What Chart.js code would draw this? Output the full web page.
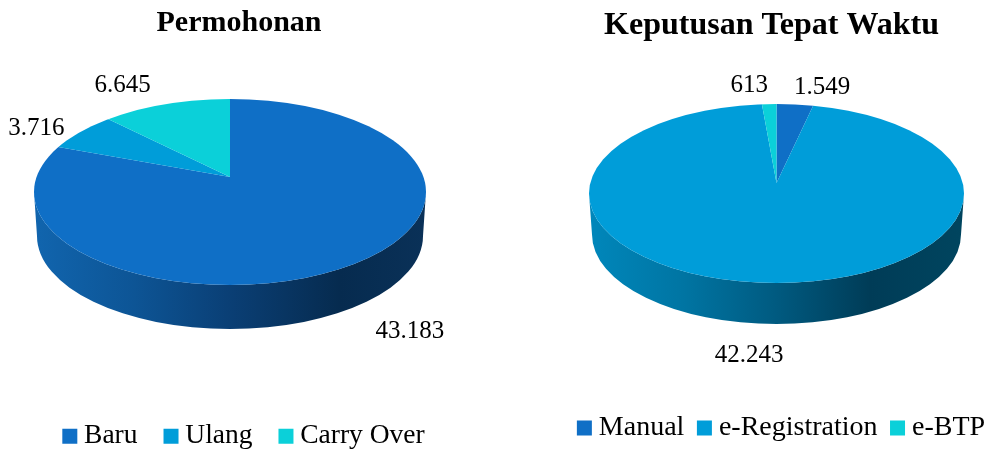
<!DOCTYPE html>
<html>
<head>
<meta charset="utf-8">
<title>Permohonan dan Keputusan Tepat Waktu</title>
<script src="https://cdn.jsdelivr.net/npm/chart.js@4"></script>
<style>
    html, body { margin: 0; padding: 0; background: #ffffff; }
    #page { position: relative; width: 985px; height: 450px; overflow: hidden; }
    canvas { position: absolute; top: 0; }
    #permohonanChart { left: 0; }
    #keputusanChart { left: 529px; }
</style>
</head>
<body>
<div id="page">
    <canvas id="permohonanChart" width="488" height="450"></canvas>
    <canvas id="keputusanChart" width="500" height="450"></canvas>
</div>
<script>
// --- DATA ---
const permohonanLabels = ['Baru', 'Ulang', 'Carry Over'];
const permohonanValues = [43183, 3716, 6645];
const keputusanLabels = ['Manual', 'e-Registration', 'e-BTP'];
const keputusanValues = [1549, 42243, 613];

const sliceColors = ['#0F6FC6', '#009DD9', '#0BD0D9'];
const serif = "'Liberation Serif', serif";

// angka memakai titik ribuan, contoh 43.183
const formatValue = (v) => String(v).replace(/\B(?=(\d{3})+$)/g, '.');

// --- PLUGIN: pie dimiringkan jadi elips, sisi tebal digambar di bawahnya ---
const tiltPlugin = {
    id: 'tilt',
    afterLayout(chart, args, opts) {
        chart.titleBlock.left += opts.titleShift;
        chart.titleBlock.right += opts.titleShift;
        chart.legend.left += opts.legendShift[0];
        chart.legend.right += opts.legendShift[0];
        chart.legend.top += opts.legendShift[1];
    },
    beforeDatasetsDraw(chart, args, opts) {
        const { ctx } = chart;
        const arc = chart.getDatasetMeta(0).data[0];
        ctx.save();

        // dinding samping
        const grad = ctx.createLinearGradient(opts.cx - opts.rx, 0, opts.cx + opts.rx, 0);
        opts.wall.forEach(([stop, color]) => grad.addColorStop(stop, color));
        ctx.beginPath();
        ctx.ellipse(opts.cx, opts.cy, opts.rx, opts.ry, 0, 0, Math.PI);
        ctx.ellipse(opts.cx, opts.cy + opts.depth, opts.rx - 3, opts.ry, 0, Math.PI, 0, true);
        ctx.closePath();
        ctx.fillStyle = grad;
        ctx.fill();

        // permukaan atas: clip elips, lalu skala Y dari titik pusat potongan
        ctx.beginPath();
        ctx.ellipse(opts.cx, opts.cy, opts.rx, opts.ry, 0, 0, Math.PI * 2);
        ctx.clip();
        ctx.translate(opts.cx, opts.apexY);
        ctx.scale(1, opts.squash);
        ctx.translate(-arc.x, -arc.y);
    },
    afterDatasetsDraw(chart, args, opts) {
        const { ctx } = chart;
        ctx.restore();

        // label nilai, posisinya dari sudut tengah tiap potongan
        const meta = chart.getDatasetMeta(0);
        ctx.save();
        ctx.font = opts.labelFont;
        ctx.fillStyle = '#000000';
        ctx.textAlign = 'center';
        ctx.textBaseline = 'middle';
        meta.data.forEach((el, i) => {
            const mid = (el.startAngle + el.endAngle) / 2;
            const x = opts.cx + opts.rx * Math.cos(mid) + opts.labelNudge[i][0];
            const y = opts.cy + opts.ry * Math.sin(mid) + opts.labelNudge[i][1];
            ctx.fillText(formatValue(chart.data.datasets[0].data[i]), x, y);
        });
        ctx.restore();
    }
};

function buildPie(canvasId, title, labels, values, tilt, style) {
    return new Chart(document.getElementById(canvasId).getContext('2d'), {
        type: 'pie',
        data: {
            labels: labels,
            datasets: [{ data: values, backgroundColor: sliceColors, borderWidth: 0, radius: 320 }]
        },
        options: {
            responsive: false,
            animation: false,
            plugins: {
                title: {
                    display: true,
                    text: title,
                    color: '#000000',
                    font: { family: serif, size: style.titleSize, weight: 'bold' },
                    padding: { top: style.titleTop, bottom: 10 }
                },
                legend: {
                    display: true,
                    position: 'bottom',
                    labels: {
                        // kotak 15px dibentuk dari stroke, supaya jarak ke teks sedekat aslinya
                        boxWidth: 1,
                        boxHeight: 1,
                        padding: style.legendPadding,
                        color: '#000000',
                        font: { family: serif, size: style.legendSize },
                        generateLabels: () => labels.map((text, i) => ({
                            text: text,
                            fillStyle: sliceColors[i],
                            strokeStyle: sliceColors[i],
                            fontColor: '#000000',
                            lineWidth: 14,
                            lineJoin: 'miter',
                            hidden: false,
                            index: i
                        }))
                    }
                },
                tooltip: { enabled: false },
                tilt: tilt
            }
        },
        plugins: [tiltPlugin]
    });
}

buildPie('permohonanChart', 'Permohonan', permohonanLabels, permohonanValues, {
    cx: 230, cy: 192, rx: 196, ry: 93, apexY: 177, squash: 0.47, depth: 44, titleShift: -5,
    legendShift: [3, 10],
    labelFont: "25px 'Liberation Serif', serif",
    labelNudge: [[68, 63], [-29, -13], [-33, -21]],
    wall: [[0, '#1165AE'], [0.25, '#0D5596'], [0.5, '#0A3F75'], [0.78, '#062B4F'], [1, '#0A3158']]
}, { titleSize: 30, titleTop: 5, legendSize: 27.5, legendPadding: 33 });

buildPie('keputusanChart', 'Keputusan Tepat Waktu', keputusanLabels, keputusanValues, {
    cx: 247.5, cy: 193.5, rx: 187.5, ry: 89.5, apexY: 183, squash: 0.47, depth: 41, titleShift: -7.5,
    legendShift: [5.5, 2],
    labelFont: "25px 'Liberation Serif', serif",
    labelNudge: [[25, -17], [-15, 73], [-19, -19]],
    wall: [[0, '#0087BB'], [0.25, '#0075A3'], [0.5, '#005A80'], [0.75, '#003C57'], [1, '#00455F']]
}, { titleSize: 32, titleTop: 7, legendSize: 28, legendPadding: 19.5 });
</script>
</body>
</html>
